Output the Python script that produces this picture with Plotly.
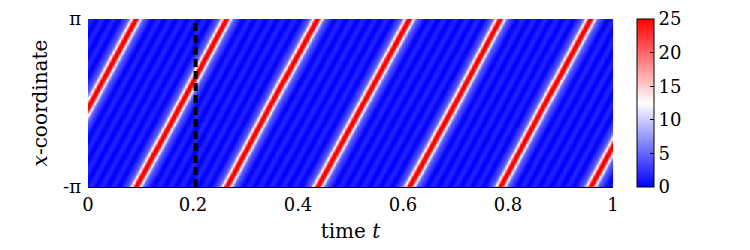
import numpy as np
import plotly.graph_objects as go

# ---- values ----
# times at which the soliton crest passes x = x_mid
crest_times = [0.0086, 0.1817, 0.353, 0.528, 0.703, 0.874]
x_mid = 0.113
peak_height = 25.0          # crest height (top of colour range)
crest_width = 2.8           # sech^2 width parameter
background_level = 0.8      # mean background value
ripple_level = 0.8          # faint background ripples
ripple_wavenumber = 8

dash_time = 0.205
x_tick_vals = [0, 0.2, 0.4, 0.6, 0.8, 1]
x_tick_text = ["0", "0.2", "0.4", "0.6", "0.8", "1"]
y_tick_vals = [-np.pi, np.pi]
y_tick_text = ["-π", "π"]
cbar_ticks = [0, 5, 10, 15, 20, 25]

# ---- build the field from the read values ----
t = np.linspace(0, 1, 700)
x = np.linspace(-np.pi, np.pi, 257)
period = np.mean(np.diff(crest_times))
ct = [crest_times[0] - period] + crest_times + [crest_times[-1] + period]
laps = np.arange(-1, len(crest_times) + 1)
xr = x_mid + 2 * np.pi * np.interp(t, ct, laps)

T, X = np.meshgrid(t, x)
XR = np.meshgrid(xr, x)[0]
d = np.angle(np.exp(1j * (X - XR)))  # wrapped distance
u = peak_height / np.cosh(crest_width * d) ** 2
u += background_level + ripple_level * np.cos(ripple_wavenumber * d)

font = "DejaVu Serif"

# page body has an 8px margin; compensate so the plot lands where the reference has it
L, T_, PW, PH = 80, 11, 525, 168
W, H = 750, 250

fig = go.Figure()
fig.add_trace(go.Heatmap(
    x=t, y=x, z=u, zmin=0, zmax=25,
    colorscale=[[0, "rgb(0,0,255)"], [0.5, "rgb(255,255,255)"], [1, "rgb(255,0,0)"]],
    colorbar=dict(
        x=(637 - 88) / 525, xanchor="left", xref="paper", xpad=0, ypad=0,
        y=0.5, yanchor="middle", len=1, lenmode="fraction",
        thickness=17, outlinewidth=1, outlinecolor="black",
        tickvals=cbar_ticks, ticks="inside", ticklen=4, tickcolor="black",
        tickfont=dict(family=font, size=18, color="black"),
    ),
    showscale=True,
))

fig.add_shape(type="line", x0=dash_time, x1=dash_time, y0=-np.pi, y1=np.pi,
              xref="x", yref="y",
              line=dict(color="black", width=4, dash="8px,4px"))

fig.update_layout(
    width=W, height=H,
    margin=dict(l=L, r=W - L - PW, t=T_, b=H - T_ - PH, autoexpand=False),
    paper_bgcolor="white", plot_bgcolor="white",
    font=dict(family=font, size=18, color="black"),
    xaxis=dict(
        range=[0, 1], tickvals=x_tick_vals, ticktext=x_tick_text,
        showline=True, linecolor="black", linewidth=1, ticks="",
        showgrid=False, zeroline=False, automargin=False,
        ticklabelstandoff=1,
        title=dict(text="time <i>t</i>", font=dict(family=font, size=20), standoff=10),
        tickfont=dict(family=font, size=18),
    ),
    yaxis=dict(
        range=[-np.pi, np.pi], tickvals=y_tick_vals, ticktext=y_tick_text,
        showline=False, ticks="", showgrid=False, zeroline=False, automargin=False,
        ticklabelstandoff=6,
        title=dict(text="<i>x</i>-coordinate", font=dict(family=font, size=20), standoff=10),
        tickfont=dict(family=font, size=18),
    ),
)

fig.write_html("out.html")
